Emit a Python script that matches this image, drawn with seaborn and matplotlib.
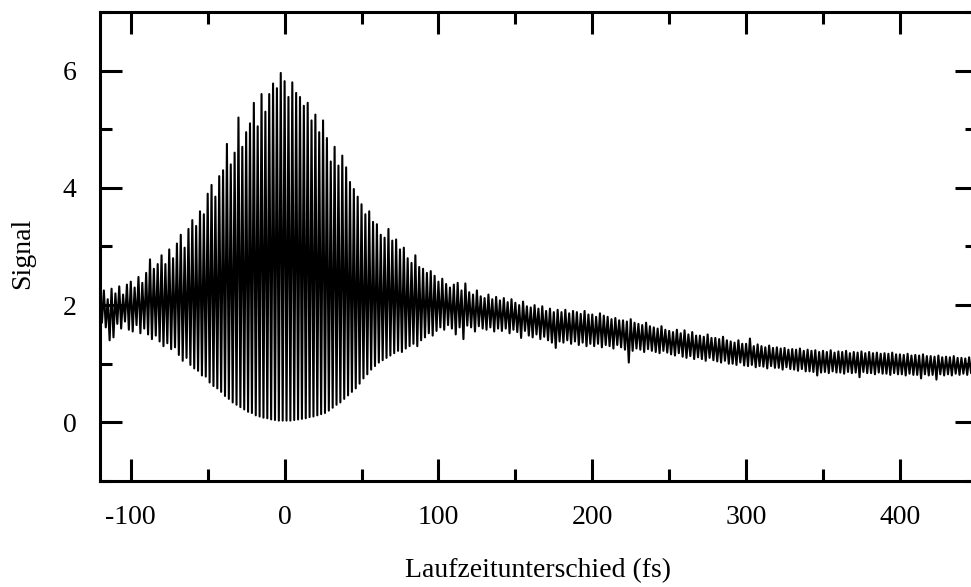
import numpy as np
import pandas as pd
import matplotlib
matplotlib.use("Agg")
import matplotlib.pyplot as plt
import seaborn as sns
from matplotlib.ticker import MultipleLocator

# Scan axis: delay of the first sample and step between samples (fs)
DELAY_START = -120.0
DELAY_STEP = 1.25

# Interferometric autocorrelation signal, one row per 10 fs of delay
signal_lead = [  # -120 fs ... -61.25 fs
    2.15, 1.70, 2.25, 1.62, 2.10, 1.40, 2.28, 1.45,
    2.20, 1.68, 2.32, 1.60, 2.18, 1.72, 2.35, 1.58,
    2.40, 1.55, 2.30, 1.66, 2.48, 1.52, 2.38, 1.60,
    2.55, 1.50, 2.78, 1.42, 2.62, 1.48, 2.70, 1.38,
    2.85, 1.30, 2.70, 1.35, 2.95, 1.25, 2.80, 1.28,
    3.05, 1.15, 3.20, 1.05, 2.98, 1.10, 3.30, 0.98,
]
signal_fringes = [  # -60 fs ... 118.75 fs
    3.45, 0.92, 3.35, 0.88, 3.60, 0.80, 3.55, 0.78,
    3.90, 0.68, 4.05, 0.62, 3.85, 0.58, 4.20, 0.52,
    4.30, 0.45, 4.75, 0.40, 4.40, 0.34, 4.60, 0.30,
    5.20, 0.26, 4.70, 0.22, 4.95, 0.18, 5.10, 0.16,
    5.45, 0.12, 5.05, 0.10, 5.60, 0.08, 5.30, 0.07,
    5.60, 0.05, 5.78, 0.04, 5.70, 0.03, 5.96, 0.03,
    5.82, 0.03, 5.55, 0.03, 5.80, 0.04, 5.62, 0.05,
    5.55, 0.06, 5.40, 0.07, 5.45, 0.09, 5.15, 0.10,
    5.25, 0.12, 4.95, 0.14, 5.15, 0.16, 4.85, 0.20,
    4.45, 0.25, 4.70, 0.30, 4.38, 0.34, 4.55, 0.40,
    4.35, 0.46, 4.10, 0.52, 3.98, 0.58, 3.85, 0.66,
    3.72, 0.75, 3.55, 0.82, 3.60, 0.90, 3.42, 0.96,
    3.38, 1.02, 3.20, 1.06, 3.15, 1.10, 3.30, 1.14,
    3.10, 1.18, 3.12, 1.22, 2.95, 1.20, 2.98, 1.26,
    2.80, 1.30, 2.72, 1.34, 2.85, 1.30, 2.65, 1.40,
    2.62, 1.45, 2.55, 1.52, 2.58, 1.48, 2.50, 1.56,
    2.40, 1.62, 2.45, 1.58, 2.36, 1.66, 2.30, 1.60,
    2.35, 1.50, 2.38, 1.62, 2.25, 1.42, 2.37, 1.65,
]
signal_tail = [  # 120 fs ... 448.75 fs
    2.22, 1.62, 2.18, 1.55, 2.25, 1.64, 2.15, 1.60,
    2.12, 1.58, 2.18, 1.62, 2.10, 1.55, 2.14, 1.60,
    2.08, 1.56, 2.12, 1.60, 2.05, 1.52, 2.10, 1.58,
    2.04, 1.54, 2.00, 1.44, 2.06, 1.56, 1.98, 1.48,
    1.96, 1.45, 2.00, 1.50, 1.94, 1.42, 1.98, 1.46,
    1.90, 1.40, 1.94, 1.36, 1.88, 1.27, 1.92, 1.38,
    1.88, 1.36, 1.92, 1.40, 1.86, 1.34, 1.90, 1.38,
    1.88, 1.32, 1.85, 1.36, 1.90, 1.30, 1.84, 1.34,
    1.84, 1.30, 1.80, 1.34, 1.86, 1.28, 1.82, 1.32,
    1.80, 1.30, 1.76, 1.26, 1.78, 1.32, 1.74, 1.28,
    1.74, 1.24, 1.72, 1.02, 1.76, 1.22, 1.70, 1.26,
    1.68, 1.24, 1.66, 1.20, 1.70, 1.25, 1.64, 1.22,
    1.62, 1.20, 1.60, 1.18, 1.64, 1.22, 1.58, 1.19,
    1.56, 1.16, 1.54, 1.14, 1.58, 1.18, 1.52, 1.12,
    1.57, 1.10, 1.50, 1.13, 1.54, 1.08, 1.48, 1.11,
    1.48, 1.08, 1.46, 1.05, 1.50, 1.10, 1.44, 1.06,
    1.44, 1.04, 1.42, 1.02, 1.46, 1.05, 1.40, 1.00,
    1.38, 1.00, 1.36, 0.98, 1.40, 1.02, 1.34, 0.97,
    1.34, 0.96, 1.43, 0.98, 1.30, 0.94, 1.33, 0.96,
    1.30, 0.95, 1.28, 0.92, 1.31, 0.96, 1.27, 0.93,
    1.28, 0.93, 1.26, 0.90, 1.27, 0.94, 1.24, 0.91,
    1.25, 0.90, 1.24, 0.88, 1.26, 0.91, 1.22, 0.87,
    1.24, 0.87, 1.22, 0.86, 1.23, 0.80, 1.20, 0.85,
    1.22, 0.86, 1.20, 0.84, 1.23, 0.87, 1.19, 0.85,
    1.21, 0.85, 1.20, 0.83, 1.22, 0.86, 1.18, 0.84,
    1.20, 0.85, 1.19, 0.77, 1.21, 0.86, 1.18, 0.84,
    1.20, 0.84, 1.18, 0.82, 1.19, 0.85, 1.17, 0.83,
    1.18, 0.83, 1.17, 0.81, 1.19, 0.84, 1.16, 0.82,
    1.16, 0.82, 1.15, 0.80, 1.17, 0.83, 1.14, 0.81,
    1.15, 0.81, 1.14, 0.75, 1.16, 0.82, 1.13, 0.80,
    1.13, 0.81, 1.12, 0.73, 1.14, 0.82, 1.11, 0.80,
    1.12, 0.82, 1.11, 0.80, 1.13, 0.83, 1.10, 0.81,
    1.10, 0.83, 1.09, 0.81, 1.11, 0.84, 1.08, 0.82,
]

x_ticks = [-100, 0, 100, 200, 300, 400]
y_ticks = [0, 2, 4, 6]
x_label = "Laufzeitunterschied (fs)"
y_label = "Signal"

signal = signal_lead + signal_fringes + signal_tail
delay = DELAY_START + DELAY_STEP * np.arange(len(signal))
df = pd.DataFrame({x_label: delay, y_label: signal})

sns.set_theme(style="ticks")
plt.rcParams["font.family"] = ["Liberation Serif", "DejaVu Serif"]
plt.rcParams["axes.unicode_minus"] = False

fig = plt.figure(figsize=(9.71, 5.87), dpi=100)
ax = fig.add_axes([0.103, 0.1806, 0.903, 0.799])

sns.lineplot(data=df, x=x_label, y=y_label, color="black", linewidth=1.5,
             estimator=None, sort=False, ax=ax)

ax.set_xlim(-120, 450)
ax.set_ylim(-1, 7)
ax.set_xticks(x_ticks)
ax.set_yticks(y_ticks)
ax.xaxis.set_minor_locator(MultipleLocator(50))
ax.yaxis.set_minor_locator(MultipleLocator(1))

for side in ["left", "right", "top", "bottom"]:
    ax.spines[side].set_visible(True)
    ax.spines[side].set_linewidth(2.2)
    ax.spines[side].set_color("black")

ax.tick_params(which="both", direction="in", top=True, right=True,
               width=2.2, color="black", labelsize=20, pad=17,
               labelcolor="black")
ax.tick_params(which="major", length=16)
ax.tick_params(which="minor", length=8.5)

ax.set_xlabel(x_label, fontsize=20, color="black")
ax.set_ylabel(y_label, fontsize=20, color="black")
ax.xaxis.set_label_coords(0.5, -0.165)
ax.yaxis.set_label_coords(-0.074, 0.486)

fig.savefig("out.png", dpi=100)
